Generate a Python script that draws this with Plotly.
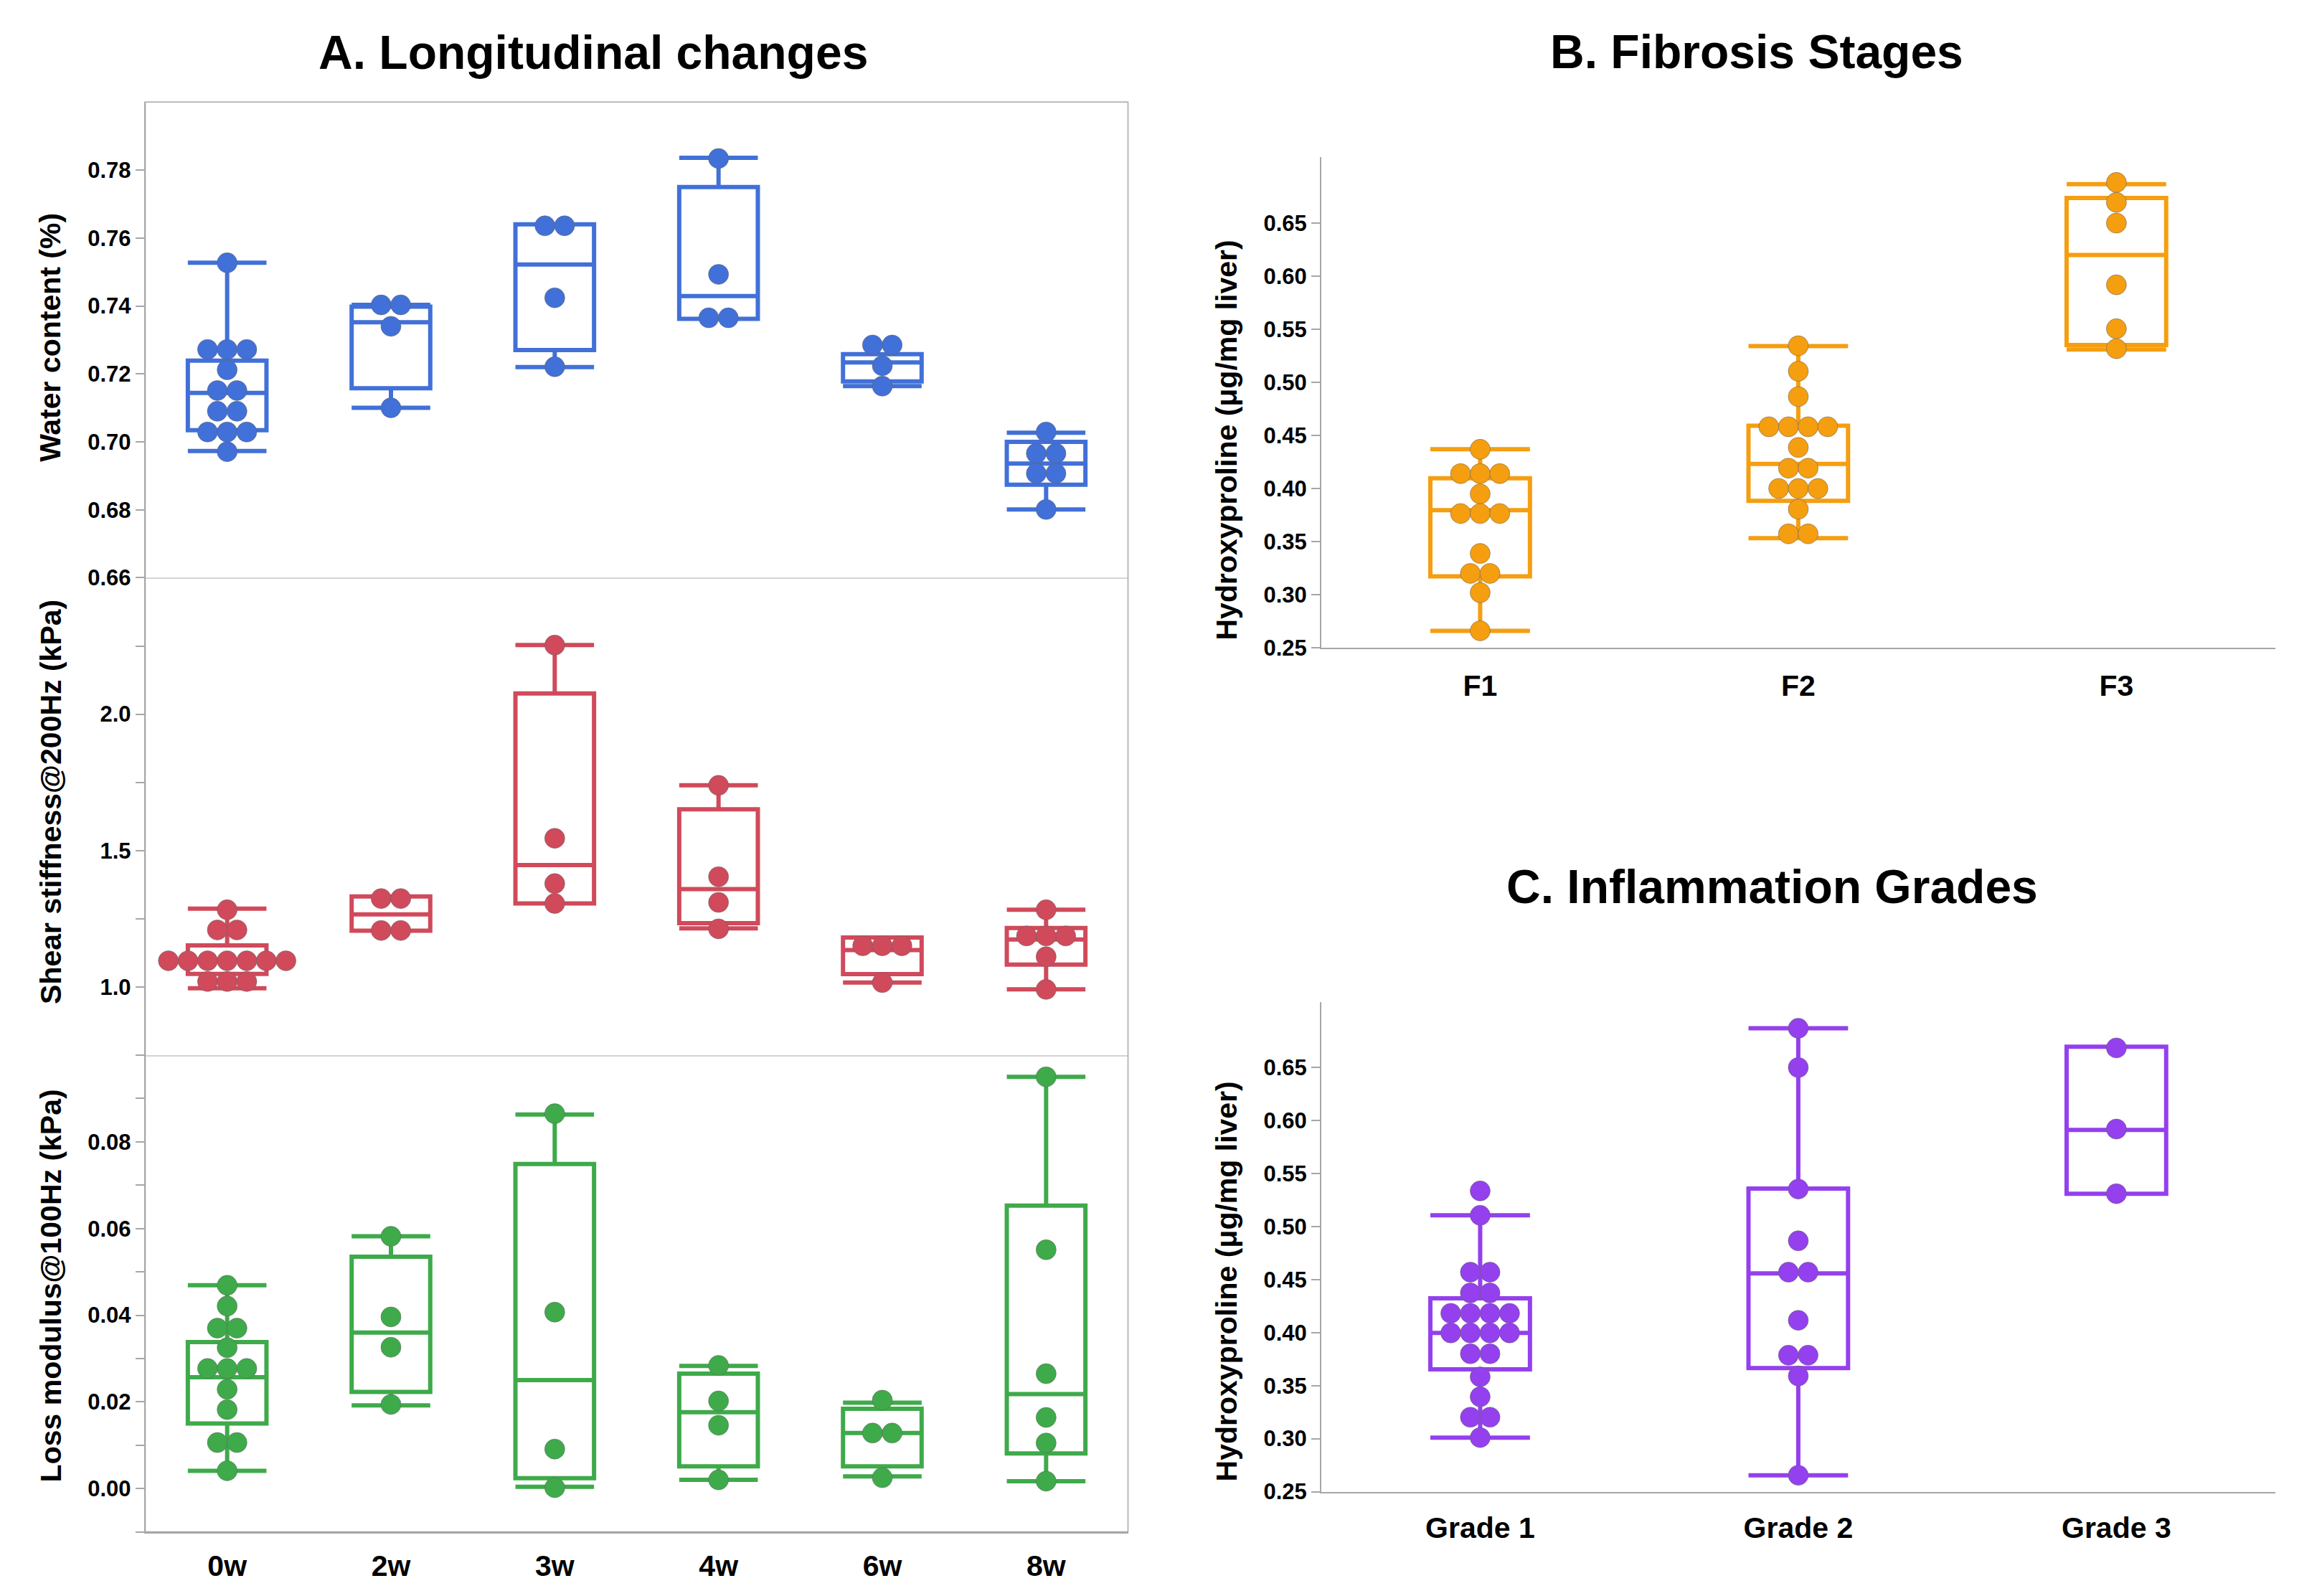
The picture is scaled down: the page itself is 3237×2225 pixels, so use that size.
import plotly.graph_objects as go

W, H = 3237, 2225
FONT = "Liberation Sans, Arial, sans-serif"

# ---------------- data ----------------
weeks = ["0w", "2w", "3w", "4w", "6w", "8w"]

water_pts = [
    [0.7527, 0.7272, 0.7272, 0.7272, 0.7212, 0.7151, 0.7151, 0.7090, 0.7090, 0.7029, 0.7029, 0.7029, 0.6971],
    [0.7403, 0.7403, 0.7340, 0.7100],
    [0.7636, 0.7636, 0.7424, 0.7221],
    [0.7834, 0.7493, 0.7365, 0.7365],
    [0.7285, 0.7285, 0.7224, 0.7164],
    [0.7029, 0.6966, 0.6966, 0.6907, 0.6907, 0.6801],
]
water_q1 = [0.7034, 0.7158, 0.7270, 0.7362, 0.7178, 0.6874]
water_med = [0.7144, 0.7352, 0.7522, 0.7429, 0.7234, 0.6936]
water_q3 = [0.7239, 0.7398, 0.7640, 0.7750, 0.7258, 0.7000]
water_lo = [0.6973, 0.7100, 0.7220, 0.7362, 0.7164, 0.6801]
water_hi = [0.7527, 0.7403, 0.7640, 0.7836, 0.7258, 0.7027]

shear_pts = [
    [1.283, 1.209, 1.209, 1.096, 1.096, 1.096, 1.096, 1.096, 1.096, 1.096, 1.020, 1.020, 1.020],
    [1.324, 1.324, 1.207, 1.207],
    [2.253, 1.545, 1.379, 1.306],
    [1.739, 1.404, 1.310, 1.213],
    [1.151, 1.151, 1.151, 1.016],
    [1.283, 1.187, 1.187, 1.187, 1.111, 0.991],
]
shear_q1 = [1.048, 1.206, 1.306, 1.234, 1.047, 1.082]
shear_med = [1.100, 1.266, 1.447, 1.359, 1.135, 1.174]
shear_q3 = [1.152, 1.332, 2.076, 1.651, 1.181, 1.216]
shear_lo = [0.995, 1.206, 1.306, 1.215, 1.016, 0.991]
shear_hi = [1.287, 1.332, 2.253, 1.739, 1.181, 1.283]

loss_pts = [
    [0.0469, 0.0421, 0.0370, 0.0370, 0.0325, 0.0277, 0.0277, 0.0277, 0.0229, 0.0182, 0.0106, 0.0106, 0.0041],
    [0.0582, 0.0396, 0.0326, 0.0194],
    [0.0865, 0.0407, 0.0091, 0.0002],
    [0.0284, 0.0202, 0.0146, 0.0020],
    [0.0204, 0.0128, 0.0128, 0.0025],
    [0.0950, 0.0551, 0.0265, 0.0164, 0.0105, 0.0017],
]
loss_q1 = [0.0150, 0.0223, 0.0024, 0.0051, 0.0051, 0.0081]
loss_med = [0.0257, 0.0360, 0.0250, 0.0176, 0.0128, 0.0218]
loss_q3 = [0.0338, 0.0535, 0.0749, 0.0265, 0.0184, 0.0653]
loss_lo = [0.0041, 0.0192, 0.0004, 0.0020, 0.0028, 0.0017]
loss_hi = [0.0469, 0.0582, 0.0863, 0.0283, 0.0198, 0.0950]

stages = ["F1", "F2", "F3"]
fib_pts = [
    [0.4370, 0.4141, 0.4141, 0.4141, 0.3950, 0.3765, 0.3765, 0.3765, 0.3389, 0.3201, 0.3201, 0.3020, 0.2661],
    [0.5345, 0.5105, 0.4866, 0.4582, 0.4582, 0.4582, 0.4582, 0.4387, 0.4192, 0.4192,
     0.4001, 0.4001, 0.4001, 0.3806, 0.3574, 0.3574],
    [0.6883, 0.6695, 0.6500, 0.5919, 0.5505, 0.5317],
]
fib_q1 = [0.3174, 0.3885, 0.5351]
fib_med = [0.3796, 0.4233, 0.6199]
fib_q3 = [0.4097, 0.4592, 0.6736]
fib_lo = [0.2661, 0.3533, 0.5310]
fib_hi = [0.4370, 0.5341, 0.6866]

grades = ["Grade 1", "Grade 2", "Grade 3"]
inf_pts = [
    [0.5336, 0.5106, 0.4570, 0.4570, 0.4374, 0.4374, 0.4182, 0.4182, 0.4182, 0.4182,
     0.3997, 0.3997, 0.3997, 0.3997, 0.3801, 0.3801, 0.3583, 0.3395, 0.3202, 0.3202, 0.3010],
    [0.6870, 0.6500, 0.5354, 0.4866, 0.4570, 0.4570, 0.4116, 0.3787, 0.3787, 0.3591, 0.2655],
    [0.6685, 0.5920, 0.5310],
]
inf_q1 = [0.3653, 0.3665, 0.5310]
inf_med = [0.3997, 0.4559, 0.5912]
inf_q3 = [0.4323, 0.5358, 0.6696]
inf_lo = [0.3010, 0.2655, 0.5310]
inf_hi = [0.5106, 0.6870, 0.6696]

hyp_ticks = [0.25, 0.30, 0.35, 0.40, 0.45, 0.50, 0.55, 0.60, 0.65]

# ---------------- styling ----------------
BLUE, RED, GREEN = "#4170D8", "#D04A5B", "#3EAA4A"
ORANGE, PURPLE = "#F59E10", "#9440EE"
AXC = "#A6A6A6"
SEP = "#D4D4D4"


def px2fx(p):
    return p / W


def px2fy(p):
    return 1 - p / H


A_X = [px2fx(202.5), px2fx(1572.5)]
A1_Y = [px2fy(812), px2fy(143.5)]
A2_Y = [px2fy(1483), px2fy(812)]
A3_Y = [px2fy(2153), px2fy(1483)]
BC_X = [px2fx(1841.7), px2fx(3172.1)]
B_Y = [px2fy(910.6), px2fy(221)]
C_Y = [px2fy(2096.5), px2fy(1408)]

SP_A = 0.1196   # dot spacing in category units (panel A)
SP_BC = 0.0616  # dot spacing in category units (panels B, C)


def dot_xy(groups, spacing):
    xs, ys = [], []
    for ci, vals in enumerate(groups):
        counts = {}
        for v in vals:
            counts[v] = counts.get(v, 0) + 1
        for v, k in counts.items():
            for i in range(k):
                xs.append(ci + (i - (k - 1) / 2) * spacing)
                ys.append(v)
    return xs, ys


fig = go.Figure()


def add_panel(pts, q1, med, q3, lo, hi, color, xa, ya, width, spacing):
    n = len(q1)
    fig.add_trace(go.Box(
        x=list(range(n)), q1=q1, median=med, q3=q3, lowerfence=lo, upperfence=hi,
        width=width, whiskerwidth=1, boxpoints=False,
        line=dict(color=color, width=6), fillcolor="rgba(255,255,255,0)",
        xaxis=xa, yaxis=ya, showlegend=False, hoverinfo="skip"))
    xs, ys = dot_xy(pts, spacing)
    fig.add_trace(go.Scatter(
        x=xs, y=ys, mode="markers", xaxis=xa, yaxis=ya, showlegend=False,
        marker=dict(size=28, color=color, line=dict(color="rgba(100,100,100,0.55)", width=1))))


add_panel(water_pts, water_q1, water_med, water_q3, water_lo, water_hi, BLUE, "x", "y", 0.48, SP_A)
add_panel(shear_pts, shear_q1, shear_med, shear_q3, shear_lo, shear_hi, RED, "x2", "y2", 0.48, SP_A)
add_panel(loss_pts, loss_q1, loss_med, loss_q3, loss_lo, loss_hi, GREEN, "x3", "y3", 0.48, SP_A)
add_panel(fib_pts, fib_q1, fib_med, fib_q3, fib_lo, fib_hi, ORANGE, "x4", "y4", 0.313, SP_BC)
add_panel(inf_pts, inf_q1, inf_med, inf_q3, inf_lo, inf_hi, PURPLE, "x5", "y5", 0.313, SP_BC)

tickfont = dict(family=FONT, size=31, color="black", weight="bold")
xtickfont = dict(family=FONT, size=41, color="black", weight="bold")

ycommon = dict(showgrid=False, zeroline=False, ticks="outside", ticklen=12, tickwidth=1.5,
               tickcolor=AXC, tickfont=tickfont, showline=True, linecolor=AXC, linewidth=1.5)
xcommon = dict(showgrid=False, zeroline=False, fixedrange=True)

# panel A axes
water_ticks = [0.66, 0.68, 0.70, 0.72, 0.74, 0.76, 0.78]
shear_ticks = [0.75, 1.0, 1.25, 1.5, 1.75, 2.0, 2.25]
shear_text = ["", "1.0", "", "1.5", "", "2.0", ""]
loss_ticks = [-0.01, 0.0, 0.01, 0.02, 0.03, 0.04, 0.05, 0.06, 0.07, 0.08, 0.09, 0.10]
loss_text = ["", "0.00", "", "0.02", "", "0.04", "", "0.06", "", "0.08", "", ""]

fig.update_layout(
    xaxis=dict(domain=A_X, range=[-0.5, 5.5], anchor="y", showticklabels=False,
               showline=True, linecolor=SEP, linewidth=1.5, ticks="", **xcommon),
    yaxis=dict(domain=A1_Y, range=[0.66, 0.80], anchor="x", tickvals=water_ticks,
               ticktext=[f"{v:.2f}" for v in water_ticks], **ycommon),
    xaxis2=dict(domain=A_X, range=[-0.5, 5.5], anchor="y2", showticklabels=False,
                showline=True, linecolor=SEP, linewidth=1.5, ticks="", **xcommon),
    yaxis2=dict(domain=A2_Y, range=[0.75, 2.5], anchor="x2", tickvals=shear_ticks,
                ticktext=shear_text, **ycommon),
    xaxis3=dict(domain=A_X, range=[-0.5, 5.5], anchor="y3", tickvals=list(range(len(weeks))),
                ticktext=weeks, tickfont=xtickfont, showline=True, linecolor=AXC, linewidth=1.5,
                ticks="outside", ticklen=10, tickcolor="rgba(0,0,0,0)", **xcommon),
    yaxis3=dict(domain=A3_Y, range=[-0.01, 0.10], anchor="x3", tickvals=loss_ticks,
                ticktext=loss_text, **ycommon),
    xaxis4=dict(domain=BC_X, range=[-0.5, 2.5], anchor="y4", tickvals=list(range(len(stages))),
                ticktext=stages, tickfont=xtickfont, showline=True, linecolor=AXC, linewidth=1.5,
                ticks="outside", ticklen=16, tickcolor="rgba(0,0,0,0)", **xcommon),
    yaxis4=dict(domain=B_Y, range=[0.25, 0.712], anchor="x4", tickvals=hyp_ticks,
                ticktext=[f"{v:.2f}" for v in hyp_ticks], **ycommon),
    xaxis5=dict(domain=BC_X, range=[-0.5, 2.5], anchor="y5", tickvals=list(range(len(grades))),
                ticktext=grades, tickfont=xtickfont, showline=True, linecolor=AXC, linewidth=1.5,
                ticks="outside", ticklen=14, tickcolor="rgba(0,0,0,0)", **xcommon),
    yaxis5=dict(domain=C_Y, range=[0.25, 0.712], anchor="x5", tickvals=hyp_ticks,
                ticktext=[f"{v:.2f}" for v in hyp_ticks], **ycommon),
)

# frame of panel A
fig.add_shape(type="rect", xref="paper", yref="paper", x0=A_X[0], x1=A_X[1], y0=A3_Y[0], y1=A1_Y[1],
              line=dict(color=AXC, width=1.5), fillcolor="rgba(0,0,0,0)", layer="above")

titles = [
    ("A. Longitudinal changes", 826.6, 73.3),
    ("B. Fibrosis Stages", 2448.6, 72.5),
    ("C. Inflammation Grades", 2470, 1246),
]
for txt, xp, yp in titles:
    fig.add_annotation(text=txt, x=px2fx(xp), y=px2fy(yp), xref="paper", yref="paper",
                       xanchor="center", yanchor="middle", showarrow=False,
                       font=dict(family=FONT, size=66, color="black", weight="bold"))

ytitles = [
    ("Water content (%)", 70, 474.7),
    ("Shear stiffness@200Hz (kPa)", 71, 1127),
    ("Loss modulus@100Hz (kPa)", 71, 1807),
    ("Hydroxyproline (μg/mg liver)", 1710, 618.5),
    ("Hydroxyproline (μg/mg liver)", 1710, 1801),
]
for txt, xp, yp in ytitles:
    fig.add_annotation(text=txt, x=px2fx(xp), y=px2fy(yp), xref="paper", yref="paper",
                       xanchor="center", yanchor="middle", showarrow=False, textangle=-90,
                       font=dict(family=FONT, size=41, color="black", weight="bold"))

fig.update_layout(width=W, height=H, autosize=False, margin=dict(l=0, r=0, t=0, b=0),
                  paper_bgcolor="white", plot_bgcolor="white", showlegend=False)

fig.write_html("out.html", config={"displayModeBar": False},
               post_script="document.body.style.margin='0';document.body.style.overflow='hidden';")
